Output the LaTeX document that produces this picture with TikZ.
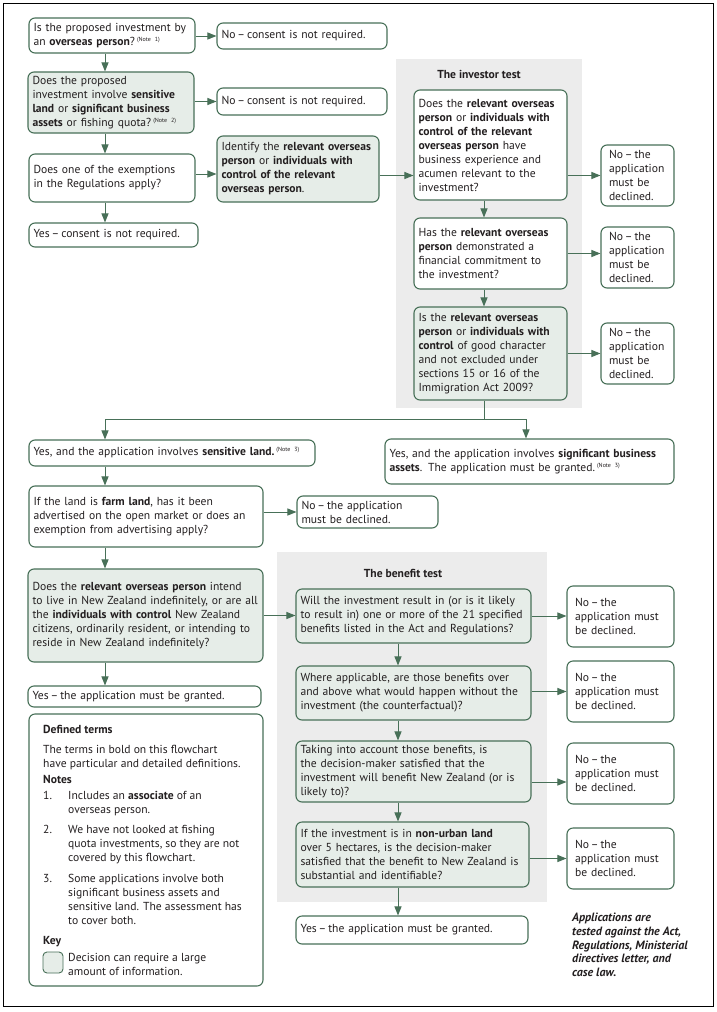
\documentclass[tikz,border=0pt]{standalone}
\usepackage{fontspec}
\setmainfont{PT Sans}
\usetikzlibrary{arrows.meta}
\definecolor{gline}{RGB}{72,112,88}
\definecolor{gfill}{RGB}{230,237,232}
\definecolor{panel}{RGB}{236,236,236}
\definecolor{txt}{RGB}{35,31,32}
\newcommand\nt[1]{\hspace{2pt}\raisebox{4pt}{\fontsize{6}{6}\selectfont #1}}
\newcommand\mkbox[6]{%
  \pgfmathsetmacro\bw{#4-#2}\pgfmathsetmacro\bh{#5-#3}%
  \pgfmathsetmacro\bcx{(#2+#4)/2}\pgfmathsetmacro\bcy{(#3+#5)/2}%
  \node[#1, minimum width=\bw pt, minimum height=\bh pt] (#6) at (\bcx,\bcy)}
\begin{document}
\begin{tikzpicture}[x=1pt,y=-1pt,
  base/.style={draw=gline, line width=1.1pt, rounded corners=6pt, align=left,
    inner ysep=1pt, font=\fontsize{11.6}{14}\selectfont, text=txt},
  plain/.style={base, fill=white, inner xsep=4.5pt, text width=\bw pt-9pt},
  dec/.style={base, fill=gfill, inner xsep=4.5pt, text width=\bw pt-9pt},
  noB/.style={base, fill=white, inner xsep=8pt, text width=\bw pt-16pt},
  arr/.style={draw=gline, line width=1pt, -{Triangle[length=9pt,width=7pt]}},
  ln/.style={draw=gline, line width=1pt},
  tx/.style={font=\fontsize{11.6}{14}\selectfont, text=txt, inner sep=0pt, anchor=base west},
  ttl/.style={font=\bfseries\fontsize{11.6}{14}\selectfont, text=txt, inner sep=0pt}]

\useasboundingbox (0,0) rectangle (717,1012);
\fill[white] (0,0) rectangle (717,1012);
\draw[black, line width=1pt] (3,3) rectangle (713,1006);

% panels
\fill[panel] (396,59) rectangle (582,408);
\fill[panel] (277,552) rectangle (547,902);

% top-left column
\mkbox{plain}{29}{18}{195}{53}{A}{Is the proposed investment by\\an \textbf{overseas person}?\nt{(Note 1)}};
\mkbox{plain}{217}{23}{387}{49}{An}{No\,–\,consent is not required.};
\mkbox{dec}{28}{72}{194}{133}{B}{Does the proposed\\investment involve \textbf{sensitive}\\\textbf{land} or \textbf{significant business}\\\textbf{assets} or fishing quota?\nt{(Note 2)}};
\mkbox{plain}{217}{88}{387}{115}{Bn}{No\,–\,consent is not required.};
\mkbox{plain}{29}{154}{195}{202}{C}{Does one of the exemptions\\in the Regulations apply?};
\mkbox{plain}{29}{223}{198}{247}{Cy}{Yes\,–\,consent is not required.};
\mkbox{dec}{217}{136}{379}{202}{D}{Identify the \textbf{relevant overseas}\\\textbf{person} or \textbf{individuals with}\\\textbf{control of the relevant}\\\textbf{overseas person}.};

% investor test
\node[ttl] (IT) at (479,74) {The investor test};
\mkbox{plain}{414}{90}{567}{200}{I1}{Does the \textbf{relevant overseas}\\\textbf{person} or \textbf{individuals with}\\\textbf{control of the relevant}\\\textbf{overseas person} have\\business experience and\\acumen relevant to the\\investment?};
\mkbox{noB}{601}{145}{674}{206}{I1n}{No\,–\,the\\application\\must be\\declined.};
\mkbox{plain}{414}{218}{567}{289}{I2}{Has the \textbf{relevant overseas}\\\textbf{person} demonstrated a\\financial commitment to\\the investment?};
\mkbox{noB}{601}{227}{674}{288}{I2n}{No\,–\,the\\application\\must be\\declined.};
\mkbox{dec}{414}{307}{567}{400}{I3}{Is the \textbf{relevant overseas}\\\textbf{person} or \textbf{individuals with}\\\textbf{control} of good character\\and not excluded under\\sections 15 or 16 of the\\Immigration Act 2009?};
\mkbox{noB}{601}{323}{674}{384}{I3n}{No\,–\,the\\application\\must be\\declined.};

% middle
\mkbox{plain}{29}{440}{315}{466}{S}{Yes, and the application involves \textbf{sensitive land.}\nt{(Note 3)}};
\mkbox{plain}{385}{439}{674}{484}{SB}{Yes, and the application involves \textbf{significant business}\\\textbf{assets}. The application must be granted.\nt{(Note 3)}};
\mkbox{plain}{29}{486}{263}{547}{F}{If the land is \textbf{farm land}, has it been\\advertised on the open market or does an\\exemption from advertising apply?};
\mkbox{plain}{297}{496}{438}{528}{Fn}{No\,–\,the application\\must be declined.};
\mkbox{dec}{28}{569}{263}{662}{E}{Does the \textbf{relevant overseas person} intend\\to live in New Zealand indefinitely, or are all\\the \textbf{individuals with control} New Zealand\\citizens, ordinarily resident, or intending to\\reside in New Zealand indefinitely?};
\mkbox{plain}{28}{686}{261}{707}{Ey}{Yes\,–\,the application must be granted.};

% benefit test
\node[ttl] (BT) at (403,573) {The benefit test};
\mkbox{dec}{296}{589}{531}{643}{B1}{Will the investment result in (or is it likely\\to result in) one or more of the 21 specified\\benefits listed in the Act and Regulations?};
\mkbox{noB}{567}{586}{674}{647}{B1n}{No\,–\,the\\application must\\be declined.};
\mkbox{dec}{296}{666}{531}{720}{B2}{Where applicable, are those benefits over\\and above what would happen without the\\investment (the counterfactual)?};
\mkbox{noB}{567}{661}{674}{722}{B2n}{No\,–\,the\\application must\\be declined.};
\mkbox{dec}{296}{741}{531}{802}{B3}{Taking into account those benefits, is\\the decision-maker satisfied that the\\investment will benefit New Zealand (or is\\likely to)?};
\mkbox{noB}{567}{743}{674}{804}{B3n}{No\,–\,the\\application must\\be declined.};
\mkbox{dec}{296}{822}{529}{887}{B4}{If the investment is in \textbf{non-urban land}\\over 5 hectares, is the decision-maker\\satisfied that the benefit to New Zealand is\\substantial and identifiable?};
\mkbox{noB}{567}{828}{674}{889}{B4n}{No\,–\,the\\application must\\be declined.};
\mkbox{plain}{296}{916}{528}{944}{BY}{Yes\,–\,the application must be granted.};

\node[anchor=north west, align=left, inner sep=0pt, text=txt,
  font=\bfseries\itshape\fontsize{12}{13.7}\selectfont] (AP) at (572,913)
  {Applications are\\tested against the Act,\\Regulations, Ministerial\\directives letter, and\\case law.};

% defined terms box
\mkbox{plain}{29}{714}{263}{986}{DT}{};
\node[tx] (d1) at (43,733) {\textbf{Defined terms}};
\node[tx] (d2) at (43,753) {The terms in bold on this flowchart};
\node[tx] (d3) at (43,767) {have particular and detailed definitions.};
\node[tx] (d4) at (43,783) {\textbf{Notes}};
\node[tx] (n1) at (43,799) {1.};
\node[tx] (n1a) at (68,799) {Includes an \textbf{associate} of an};
\node[tx] (n1b) at (68,813) {overseas person.};
\node[tx] (n2) at (43,833) {2.};
\node[tx] (n2a) at (68,833) {We have not looked at fishing};
\node[tx] (n2b) at (68,847) {quota investments, so they are not};
\node[tx] (n2c) at (68,861) {covered by this flowchart.};
\node[tx] (n3) at (43,882) {3.};
\node[tx] (n3a) at (68,882) {Some applications involve both};
\node[tx] (n3b) at (68,896) {significant business assets and};
\node[tx] (n3c) at (68,910) {sensitive land. The assessment has};
\node[tx] (n3d) at (68,924) {to cover both.};
\node[tx] (k0) at (43,944) {\textbf{Key}};
\node[draw=gline, fill=gfill, line width=0.9pt, rounded corners=4pt,
  minimum width=20pt, minimum height=21pt, inner sep=0pt] (KS) at (53,962.5) {};
\node[tx] (k1) at (68,961) {Decision can require a large};
\node[tx] (k2) at (68,975) {amount of information.};

% columns and junctions
\coordinate (cL) at (105,0);
\coordinate (cI) at (484,0);
\coordinate (cB) at (398,0);
\coordinate (yCD) at (0,174);
\coordinate (yB3) at (0,782);
\coordinate (brL) at (105,419);
\coordinate (brM) at (484,419);
\coordinate (brR) at (526,419);

% connectors
\draw[arr] (A.south -| cL) -- (B.north -| cL);
\draw[arr] (B.south -| cL) -- (C.north -| cL);
\draw[arr] (C.south -| cL) -- (Cy.north -| cL);
\draw[arr] (An.west -| A.east) -- (An.west);
\draw[arr] (Bn.west -| B.east) -- (Bn.west);
\draw[arr] (C.east |- yCD) -- (D.west |- yCD);
\draw[arr] (I1n.west -| D.east) -- (I1n.west -| I1.west);
\draw[arr] (I1n.west -| I1.east) -- (I1n.west);
\draw[arr] (I2.east) -- (I2.east -| I2n.west);
\draw[arr] (I3n.west -| I3.east) -- (I3n.west);
\draw[arr] (I1.south -| cI) -- (I2.north -| cI);
\draw[arr] (I2.south -| cI) -- (I3.north -| cI);
\draw[ln] (I3.south -| cI) -- (brM);
\draw[ln] (brL) -- (brR);
\draw[arr] (brL) -- (S.north -| brL);
\draw[arr] (brR) -- (SB.north -| brR);
\draw[arr] (S.south -| cL) -- (F.north -| cL);
\draw[arr] (Fn.west -| F.east) -- (Fn.west);
\draw[arr] (F.south -| cL) -- (E.north -| cL);
\draw[arr] (E.south -| cL) -- (Ey.north -| cL);
\draw[arr] (E.east) -- (E.east -| B1.west);
\draw[arr] (B1.east) -- (B1.east -| B1n.west);
\draw[arr] (B2n.west -| B2.east) -- (B2n.west);
\draw[arr] (B3.east |- yB3) -- (B3n.west |- yB3);
\draw[arr] (B4n.west -| B4.east) -- (B4n.west);
\draw[arr] (B1.south -| cB) -- (B2.north -| cB);
\draw[arr] (B2.south -| cB) -- (B3.north -| cB);
\draw[arr] (B3.south -| cB) -- (B4.north -| cB);
\draw[arr] (B4.south -| cB) -- (BY.north -| cB);
\end{tikzpicture}
\end{document}
